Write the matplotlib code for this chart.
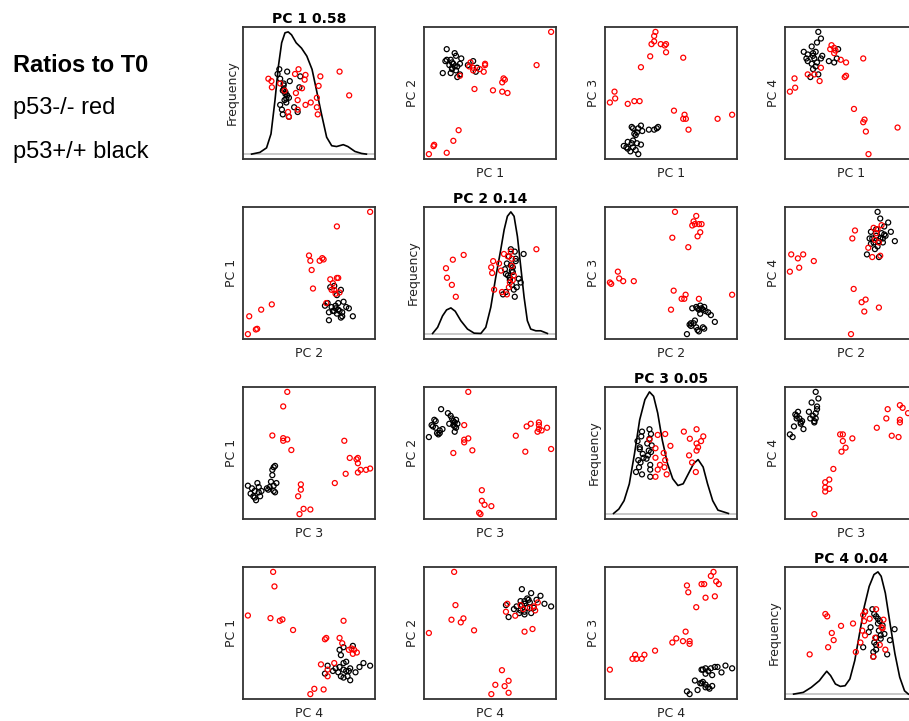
import numpy as np
import matplotlib.pyplot as plt

# PC scores (no ticks on the chart, so units are arbitrary)
# p53-/- samples (red)
pc1_red = [0.035, 0.07, 0.075, 0.17, 0.22, 0.26,
           0.96, 0.85, 0.52, 0.63, 0.59, 0.61, 0.60,
           0.35, 0.34, 0.37, 0.37, 0.42, 0.46, 0.45, 0.59, 0.27, 0.46, 0.38]
pc2_red = [0.04, 0.10, 0.11, 0.05, 0.14, 0.22,
           0.96, 0.71, 0.52, 0.50, 0.58, 0.60, 0.61,
           0.73, 0.70, 0.69, 0.67, 0.68, 0.71, 0.66, 0.51, 0.63, 0.72, 0.53]
pc3_red = [0.42, 0.50, 0.45, 0.41, 0.43, 0.43,
           0.33, 0.30, 0.36, 0.22, 0.30, 0.30, 0.33,
           0.85, 0.76, 0.91, 0.87, 0.85, 0.85, 0.84, 0.75, 0.68, 0.79, 0.94]
pc4_red = [0.51, 0.61, 0.54, 0.64, 0.64, 0.59,
           0.23, 0.24, 0.38, 0.04, 0.28, 0.21, 0.30,
           0.86, 0.83, 0.80, 0.84, 0.75, 0.73, 0.62, 0.76, 0.69, 0.63, 0.82]

# p53+/+ samples (black)
pc1_black = [0.20, 0.21, 0.27, 0.25, 0.24, 0.33, 0.39, 0.40, 0.37, 0.23, 0.28, 0.22,
             0.21, 0.20, 0.14, 0.17, 0.21, 0.27, 0.25, 0.17, 0.19, 0.23, 0.16, 0.24]
pc2_black = [0.75, 0.73, 0.72, 0.70, 0.78, 0.71, 0.66, 0.69, 0.74, 0.80, 0.76, 0.72,
             0.68, 0.65, 0.65, 0.75, 0.69, 0.64, 0.62, 0.83, 0.71, 0.70, 0.74, 0.67]
pc3_black = [0.24, 0.23, 0.25, 0.23, 0.20, 0.22, 0.23, 0.24, 0.22, 0.18, 0.21, 0.19,
             0.14, 0.12, 0.10, 0.08, 0.09, 0.11, 0.04, 0.13, 0.06, 0.07, 0.09, 0.12]
pc4_black = [0.85, 0.80, 0.91, 0.96, 0.88, 0.74, 0.76, 0.83, 0.73, 0.81, 0.78, 0.76,
             0.68, 0.72, 0.81, 0.79, 0.78, 0.76, 0.64, 0.74, 0.62, 0.70, 0.76, 0.73]

# density curves on the diagonal (x in PC units, relative height)
dens1_x = [-0.157, -0.062, 0.014, 0.065, 0.111, 0.149, 0.187, 0.225, 0.262, 0.300, 0.353, 0.414,
           0.475, 0.535, 0.587, 0.641, 0.702, 0.760, 0.816, 0.892, 0.945, 1.026, 1.102, 1.157]
dens1_y = [0.0, 0.013, 0.047, 0.152, 0.407, 0.657, 0.837, 0.912, 0.919, 0.897, 0.837, 0.797,
           0.737, 0.637, 0.477, 0.307, 0.127, 0.063, 0.057, 0.071, 0.057, 0.02, 0.005, 0.0]
dens2_x = [-0.096, -0.045, 0.005, 0.046, 0.090, 0.134, 0.191, 0.259, 0.327, 0.395, 0.445, 0.496, 0.547,
           0.597, 0.632, 0.665, 0.700, 0.733, 0.767, 0.801, 0.835, 0.868, 0.902, 0.954, 1.004, 1.072]
dens2_y = [0.005, 0.051, 0.137, 0.182, 0.197, 0.172, 0.101, 0.038, 0.007, 0.005, 0.051, 0.202, 0.43,
           0.633, 0.785, 0.886, 0.919, 0.886, 0.734, 0.506, 0.277, 0.101, 0.038, 0.025, 0.025, 0.005]
dens3_x = [-0.260, -0.190, -0.120, -0.050, 0.020, 0.089, 0.159, 0.220, 0.275, 0.330, 0.391, 0.461,
           0.531, 0.601, 0.671, 0.741, 0.811, 0.871, 0.938, 0.997, 1.066, 1.136, 1.276]
dens3_y = [0.005, 0.038, 0.101, 0.227, 0.456, 0.709, 0.861, 0.919, 0.886, 0.76, 0.557, 0.38,
           0.266, 0.215, 0.228, 0.304, 0.38, 0.41, 0.354, 0.228, 0.101, 0.03, 0.005]
dens4_x = [-0.134, -0.029, 0.058, 0.145, 0.187, 0.225, 0.267, 0.319, 0.372, 0.424, 0.476, 0.529,
           0.581, 0.632, 0.685, 0.737, 0.780, 0.815, 0.860, 0.911, 0.964, 1.016, 1.068, 1.110]
dens4_y = [0.0, 0.013, 0.051, 0.101, 0.139, 0.172, 0.139, 0.076, 0.058, 0.063, 0.114, 0.253,
           0.456, 0.658, 0.81, 0.899, 0.919, 0.886, 0.76, 0.532, 0.304, 0.127, 0.025, 0.0]

# vertical spread of the points drawn on the diagonal (fraction of the band)
jit_red = [0.80, 0.75, 0.62, 0.70, 0.55, 0.10, 0.45, 0.95, 0.30, 0.85, 0.20, 0.65,
           0.05, 0.50, 0.90, 0.35, 0.15, 0.60, 0.25, 0.78, 0.40, 0.00, 0.88, 1.00]
jit_black = [0.55, 0.70, 0.40, 0.95, 0.30, 0.20, 0.62, 0.85, 0.10, 0.48, 0.75, 0.35,
             0.58, 0.05, 0.90, 0.25, 0.66, 0.00, 0.45, 0.80, 0.15, 0.52, 1.00, 0.38]

var_expl = [0.58, 0.14, 0.05, 0.04]
pc_names = ["PC 1", "PC 2", "PC 3", "PC 4"]

red = [np.array(v) for v in (pc1_red, pc2_red, pc3_red, pc4_red)]
black = [np.array(v) for v in (pc1_black, pc2_black, pc3_black, pc4_black)]
dens = [(np.array(x), np.array(y)) for x, y in
        ((dens1_x, dens1_y), (dens2_x, dens2_y), (dens3_x, dens3_y), (dens4_x, dens4_y))]


def padded(lo, hi, f=0.04):
    d = hi - lo
    return lo - f * d, hi + f * d


fig = plt.figure(figsize=(9.09, 7.21), dpi=100)
W, H = 909, 721
col_left = [243, 424, 605, 785]
row_top = [27, 207, 387, 567]
size = 132

for i in range(4):
    for j in range(4):
        ax = fig.add_axes([col_left[j] / W, 1 - (row_top[i] + size) / H, size / W, size / H])
        ax.set_xticks([])
        ax.set_yticks([])
        for sp in ax.spines.values():
            sp.set_color("#333333")
            sp.set_linewidth(1.3)

        if i == j:
            gx, gy = dens[i]
            ymax = gy.max()
            ax.set_ylim(-0.04 * ymax, 1.04 * ymax)
            ax.set_xlim(padded(gx.min(), gx.max(), 0.075))
            ax.axhline(0, color="#c4c4c4", lw=1.3, zorder=1)
            ax.plot(gx, gy, color="black", lw=1.2, zorder=2)
            lo, hi = ax.get_ylim()
            yb = lo + (0.32 + 0.36 * np.roll(jit_black, 5 * i)) * (hi - lo)
            yr = lo + (0.32 + 0.36 * np.roll(jit_red, 7 * i)) * (hi - lo)
            ax.scatter(black[i], yb, s=13, facecolors="none", edgecolors="black", linewidths=0.9, zorder=3)
            ax.scatter(red[i], yr, s=13, facecolors="none", edgecolors="red", linewidths=0.9, zorder=4)
            ax.set_title(f"{pc_names[i]} {var_expl[i]:.2f}", fontsize=10, fontweight="bold", pad=3)
            ax.set_ylabel("Frequency", fontsize=9, color="#222222")
        else:
            xv = np.concatenate([black[i], red[i]])
            yv = np.concatenate([black[j], red[j]])
            ax.set_xlim(padded(xv.min(), xv.max()))
            ax.set_ylim(padded(yv.min(), yv.max()))
            ax.scatter(black[i], black[j], s=13, facecolors="none", edgecolors="black", linewidths=0.9)
            ax.scatter(red[i], red[j], s=13, facecolors="none", edgecolors="red", linewidths=0.9)
            ax.set_xlabel(pc_names[i], fontsize=9, color="#222222")
            ax.set_ylabel(pc_names[j], fontsize=9, color="#222222")
            ax.xaxis.set_label_coords(0.5, -0.06)
        ax.yaxis.set_label_coords(-0.035, 0.5)

fig.text(13 / W, 1 - 72 / H, "Ratios to T0", fontsize=17, fontweight="bold",
         family="Liberation Sans", va="baseline")
fig.text(13 / W, 1 - 114 / H, "p53-/- red", fontsize=17, family="Liberation Sans", va="baseline")
fig.text(13 / W, 1 - 158 / H, "p53+/+ black", fontsize=17, family="Liberation Sans", va="baseline")

fig.savefig("out.png", dpi=100)
